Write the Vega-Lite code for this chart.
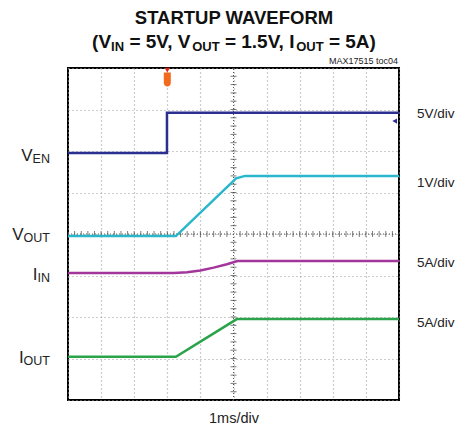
{
  "$schema": "https://vega.github.io/schema/vega-lite/v6.json",
  "width": 331,
  "height": 332,
  "autosize": {"type": "none"},
  "padding": {"left": 68, "top": 68, "right": 64, "bottom": 35},
  "background": "white",
  "view": {"stroke": "#000000", "strokeWidth": 2},
  "config": {"font": "Liberation Sans"},
  "encoding": {
    "x": {"field": "x", "type": "quantitative",
      "scale": {"domain": [0, 10], "nice": false, "zero": false},
      "axis": {"values": [0,1,2,3,4,5,6,7,8,9,10], "grid": true, "gridDash": [1, 3], "gridColor": "#9a9a9a", "gridWidth": 1.2, "labels": false, "ticks": false, "domain": false, "title": null}},
    "y": {"field": "y", "type": "quantitative",
      "scale": {"domain": [0, 8], "nice": false, "zero": false},
      "axis": {"values": [0,1,2,3,4,5,6,7,8], "grid": true, "gridDash": [1, 3], "gridColor": "#9a9a9a", "gridWidth": 1.2, "labels": false, "ticks": false, "domain": false, "title": null}}
  },
  "layer": [
    {
      "data": {"values": [{"x": 5, "y": 0, "x2": 5, "y2": 8}, {"x": 0, "y": 4, "x2": 10, "y2": 4}]},
      "mark": {"type": "rule", "color": "#555555", "strokeWidth": 1, "strokeDash": [1, 2]},
      "encoding": {"x2": {"field": "x2"}, "y2": {"field": "y2"}}
    },
    {
      "data": {"values": [
        {"x":0.2,"y":4},{"x":0.4,"y":4},{"x":0.6,"y":4},{"x":0.8,"y":4},{"x":1.2,"y":4},{"x":1.4,"y":4},{"x":1.6,"y":4},{"x":1.8,"y":4},
        {"x":2.2,"y":4},{"x":2.4,"y":4},{"x":2.6,"y":4},{"x":2.8,"y":4},{"x":3.2,"y":4},{"x":3.4,"y":4},{"x":3.6,"y":4},{"x":3.8,"y":4},
        {"x":4.2,"y":4},{"x":4.4,"y":4},{"x":4.6,"y":4},{"x":4.8,"y":4},{"x":5.2,"y":4},{"x":5.4,"y":4},{"x":5.6,"y":4},{"x":5.8,"y":4},
        {"x":6.2,"y":4},{"x":6.4,"y":4},{"x":6.6,"y":4},{"x":6.8,"y":4},{"x":7.2,"y":4},{"x":7.4,"y":4},{"x":7.6,"y":4},{"x":7.8,"y":4},
        {"x":8.2,"y":4},{"x":8.4,"y":4},{"x":8.6,"y":4},{"x":8.8,"y":4},{"x":9.2,"y":4},{"x":9.4,"y":4},{"x":9.6,"y":4},{"x":9.8,"y":4},
        {"x":1,"y":4},{"x":2,"y":4},{"x":3,"y":4},{"x":4,"y":4},{"x":6,"y":4},{"x":7,"y":4},{"x":8,"y":4},{"x":9,"y":4}
      ]},
      "mark": {"type": "tick", "orient": "vertical", "size": 6, "thickness": 1, "color": "#444444"}
    },
    {
      "data": {"values": [
        {"x":5,"y":0.2},{"x":5,"y":0.4},{"x":5,"y":0.6},{"x":5,"y":0.8},{"x":5,"y":1},{"x":5,"y":1.2},{"x":5,"y":1.4},{"x":5,"y":1.6},{"x":5,"y":1.8},{"x":5,"y":2},
        {"x":5,"y":2.2},{"x":5,"y":2.4},{"x":5,"y":2.6},{"x":5,"y":2.8},{"x":5,"y":3},{"x":5,"y":3.2},{"x":5,"y":3.4},{"x":5,"y":3.6},{"x":5,"y":3.8},
        {"x":5,"y":4.2},{"x":5,"y":4.4},{"x":5,"y":4.6},{"x":5,"y":4.8},{"x":5,"y":5},{"x":5,"y":5.2},{"x":5,"y":5.4},{"x":5,"y":5.6},{"x":5,"y":5.8},{"x":5,"y":6},
        {"x":5,"y":6.2},{"x":5,"y":6.4},{"x":5,"y":6.6},{"x":5,"y":6.8},{"x":5,"y":7},{"x":5,"y":7.2},{"x":5,"y":7.4},{"x":5,"y":7.6},{"x":5,"y":7.8}
      ]},
      "mark": {"type": "tick", "orient": "horizontal", "size": 6, "thickness": 1, "color": "#444444"}
    },
    {
      "data": {"values": [
        {"s": "VEN", "i": 0, "x": 0, "y": 5.95},
        {"s": "VEN", "i": 1, "x": 2.99, "y": 5.95},
        {"s": "VEN", "i": 2, "x": 2.99, "y": 6.92},
        {"s": "VEN", "i": 3, "x": 10, "y": 6.92},
        {"s": "VOUT", "i": 0, "x": 0, "y": 3.95},
        {"s": "VOUT", "i": 1, "x": 3.26, "y": 3.95},
        {"s": "VOUT", "i": 2, "x": 5.08, "y": 5.34},
        {"s": "VOUT", "i": 3, "x": 5.35, "y": 5.4},
        {"s": "VOUT", "i": 4, "x": 10, "y": 5.4},
        {"s": "IIN", "i": 0, "x": 0, "y": 3.06},
        {"s": "IIN", "i": 1, "x": 3.2, "y": 3.06},
        {"s": "IIN", "i": 2, "x": 3.6, "y": 3.08},
        {"s": "IIN", "i": 3, "x": 4.0, "y": 3.12},
        {"s": "IIN", "i": 4, "x": 4.4, "y": 3.19},
        {"s": "IIN", "i": 5, "x": 4.8, "y": 3.27},
        {"s": "IIN", "i": 6, "x": 5.12, "y": 3.35},
        {"s": "IIN", "i": 7, "x": 10, "y": 3.35},
        {"s": "IOUT", "i": 0, "x": 0, "y": 1.04},
        {"s": "IOUT", "i": 1, "x": 3.26, "y": 1.04},
        {"s": "IOUT", "i": 2, "x": 5.1, "y": 1.95},
        {"s": "IOUT", "i": 3, "x": 10, "y": 1.95}
      ]},
      "mark": {"type": "line", "strokeWidth": 2.5, "interpolate": "linear"},
      "encoding": {
        "color": {"field": "s", "type": "nominal", "scale": {"domain": ["VEN", "VOUT", "IIN", "IOUT"], "range": ["#2b2f8f", "#2ab6cb", "#a3369c", "#2aa34a"]}, "legend": null},
        "order": {"field": "i", "type": "quantitative"}
      }
    },
    {
      "data": {"values": [{"x": 3.0, "y": 7.72}]},
      "mark": {"type": "point", "filled": true, "shape": "M-0.5,-1L0.5,-1L0.5,0.5A0.5,0.5,0,0,1,-0.5,0.5Z", "size": 196, "color": "#f26a1b", "opacity": 1}
    },
    {
      "data": {"values": [{"x": 3.0, "y": 7.95}]},
      "mark": {"type": "point", "filled": true, "shape": "triangle-down", "size": 30, "color": "#d8261b", "opacity": 1}
    },
    {
      "data": {"values": [{"x": 9.87, "y": 6.72}]},
      "mark": {"type": "point", "filled": true, "shape": "triangle-left", "size": 30, "color": "#2b2f8f", "opacity": 1}
    },
    {
      "data": {"values": [{"x": 5.015, "y": 9.06, "t": "STARTUP WAVEFORM"}]},
      "mark": {"type": "text", "font": "Liberation Sans", "fontWeight": "bold", "fontSize": 18.5, "align": "center", "baseline": "alphabetic", "color": "#111111"},
      "encoding": {"text": {"field": "t"}}
    },
    {
      "data": {"values": [
        {"x": 0.728, "y": 8.482, "t": "(V"},
        {"x": 1.855, "y": 8.482, "t": "= 5V, V"},
        {"x": 4.740, "y": 8.482, "t": "= 1.5V, I"},
        {"x": 7.882, "y": 8.482, "t": "= 5A)"}
      ]},
      "mark": {"type": "text", "font": "Liberation Sans", "fontWeight": "bold", "fontSize": 19, "align": "left", "baseline": "alphabetic", "color": "#111111"},
      "encoding": {"text": {"field": "t"}}
    },
    {
      "data": {"values": [
        {"x": 1.302, "y": 8.41, "t": "IN"},
        {"x": 3.752, "y": 8.41, "t": "OUT"},
        {"x": 6.894, "y": 8.41, "t": "OUT"}
      ]},
      "mark": {"type": "text", "font": "Liberation Sans", "fontWeight": "bold", "fontSize": 13, "align": "left", "baseline": "alphabetic", "color": "#111111"},
      "encoding": {"text": {"field": "t"}}
    },
    {
      "data": {"values": [{"x": 9.97, "y": 8.096, "t": "MAX17515 toc04"}]},
      "mark": {"type": "text", "font": "Liberation Sans", "fontSize": 9, "align": "right", "baseline": "alphabetic", "color": "#222222"},
      "encoding": {"text": {"field": "t"}}
    },
    {
      "data": {"values": [
        {"x": -1.070, "y": 5.759, "t": "V"},
        {"x": -1.341, "y": 3.855, "t": "V"},
        {"x": -0.921, "y": 2.892, "t": "I"},
        {"x": -1.341, "y": 0.892, "t": "I"}
      ]},
      "mark": {"type": "text", "font": "Liberation Sans", "fontSize": 17, "align": "right", "baseline": "alphabetic", "color": "#222222"},
      "encoding": {"text": {"field": "t"}}
    },
    {
      "data": {"values": [
        {"x": -0.544, "y": 5.711, "t": "EN"},
        {"x": -0.544, "y": 3.807, "t": "OUT"},
        {"x": -0.544, "y": 2.843, "t": "IN"},
        {"x": -0.544, "y": 0.843, "t": "OUT"}
      ]},
      "mark": {"type": "text", "font": "Liberation Sans", "fontSize": 12.5, "align": "right", "baseline": "alphabetic", "color": "#222222"},
      "encoding": {"text": {"field": "t"}}
    },
    {
      "data": {"values": [
        {"x": 10.544, "y": 6.795, "t": "5V/div"},
        {"x": 10.544, "y": 5.133, "t": "1V/div"},
        {"x": 10.544, "y": 3.205, "t": "5A/div"},
        {"x": 10.544, "y": 1.759, "t": "5A/div"}
      ]},
      "mark": {"type": "text", "font": "Liberation Sans", "fontSize": 13.5, "align": "left", "baseline": "alphabetic", "color": "#222222"},
      "encoding": {"text": {"field": "t"}}
    },
    {
      "data": {"values": [{"x": 5.015, "y": -0.554, "t": "1ms/div"}]},
      "mark": {"type": "text", "font": "Liberation Sans", "fontSize": 14.5, "align": "center", "baseline": "alphabetic", "color": "#222222"},
      "encoding": {"text": {"field": "t"}}
    }
  ]
}
